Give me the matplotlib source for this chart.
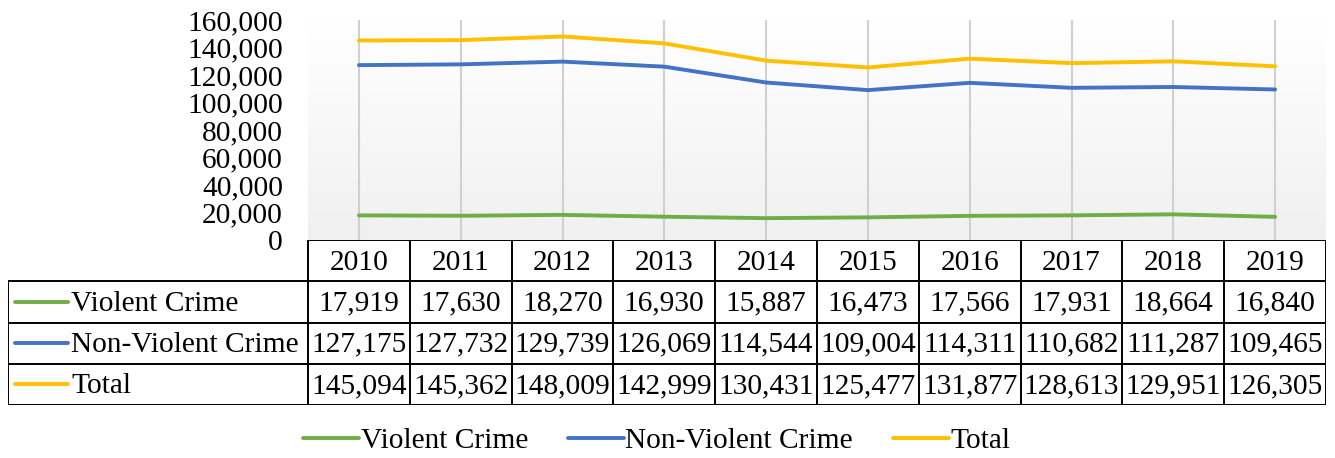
import numpy as np
import matplotlib
matplotlib.use("Agg")
import matplotlib.pyplot as plt
from matplotlib.lines import Line2D
from matplotlib.colors import LinearSegmentedColormap

years = ["2010", "2011", "2012", "2013", "2014", "2015", "2016", "2017", "2018", "2019"]
violent = [17919, 17630, 18270, 16930, 15887, 16473, 17566, 17931, 18664, 16840]
nonviolent = [127175, 127732, 129739, 126069, 114544, 109004, 114311, 110682, 111287, 109465]
total = [145094, 145362, 148009, 142999, 130431, 125477, 131877, 128613, 129951, 126305]
series_names = ["Violent Crime", "Non-Violent Crime", "Total"]
yticks = [0, 20000, 40000, 60000, 80000, 100000, 120000, 140000, 160000]

colors = ["#70AD47", "#4472C4", "#FFC000"]
series = [violent, nonviolent, total]

plt.rcParams["font.family"] = ["Liberation Serif", "DejaVu Serif"]
FS = 21.2

W, H = 1335, 458
fig = plt.figure(figsize=(W / 100, H / 100), dpi=100)

# plot area (pixel geometry of the reference)
x0, x1 = 308, 1326
ytop, ybot = 20, 240
ax = fig.add_axes([x0 / W, 1 - ybot / H, (x1 - x0) / W, (ybot - ytop) / H])
n = len(years)
x = np.arange(n)
ax.set_xlim(-0.5, n - 0.5)
ax.set_ylim(0, 160000)

# gradient background
grad = np.linspace(0, 1, 256).reshape(-1, 1)
cm = LinearSegmentedColormap.from_list("bg", ["#f0f0f0", "#ffffff"])
ax.imshow(grad, cmap=cm, aspect="auto", extent=[0, 1, 0, 1],
          transform=ax.transAxes, origin="lower", zorder=0)

for xi in x:
    ax.axvline(xi, color="#d0d0d0", lw=1.5, zorder=1)
for s, c in zip(series, colors):
    ax.plot(x, s, color=c, lw=2.8, solid_capstyle="round", zorder=3)

ax.set_yticks(yticks)
ax.set_yticklabels([f"{v:,}" for v in yticks], fontsize=FS)
ax.tick_params(axis="y", length=0, pad=18)
ax.set_xticks([])
for sp in ax.spines.values():
    sp.set_visible(False)

# data table
tx0 = 8
tab_top, tab_bot = 240, 405
colw = (x1 - x0) / n
lab_w = (x0 - tx0) / colw
tax = fig.add_axes([tx0 / W, 1 - tab_bot / H, (x1 - tx0) / W, (tab_bot - tab_top) / H])
tax.set_xlim(-0.5 - lab_w, n - 0.5)
tax.set_ylim(4, 0)
tax.axis("off")
bl = 1.4
tax.hlines(0, -0.5, n - 0.5, color="black", lw=bl)
tax.hlines([1, 2, 3, 4], -0.5 - lab_w, n - 0.5, color="black", lw=bl)
tax.vlines(-0.5 - lab_w, 1, 4, color="black", lw=bl)
tax.vlines(np.arange(n + 1) - 0.5, 0, 4, color="black", lw=bl)

for i, yr in enumerate(years):
    tax.text(i, 0.55, yr, ha="center", va="center", fontsize=FS)
for r, (name, s, c) in enumerate(zip(series_names, series, colors)):
    yc = r + 1.5
    for i, v in enumerate(s):
        tax.text(i, yc + 0.04, f"{v:,}", ha="center", va="center", fontsize=FS)
    lx0 = -0.5 - lab_w + 7 / colw
    lx1 = -0.5 - lab_w + 60 / colw
    tax.plot([lx0, lx1], [yc, yc], color=c, lw=2.8, solid_capstyle="round")
    tax.text(lx1 + 3 / colw, yc + 0.04, name, ha="left", va="center", fontsize=FS)

handles = [Line2D([], [], color=c, lw=2.8, solid_capstyle="round") for c in colors]
fig.legend(handles, series_names, loc="center", bbox_to_anchor=(0.492, 1 - 441 / H),
           ncol=3, frameon=False, fontsize=FS, handlelength=1.9, handletextpad=0.05,
           columnspacing=1.35)

fig.savefig("out.png", dpi=100)
